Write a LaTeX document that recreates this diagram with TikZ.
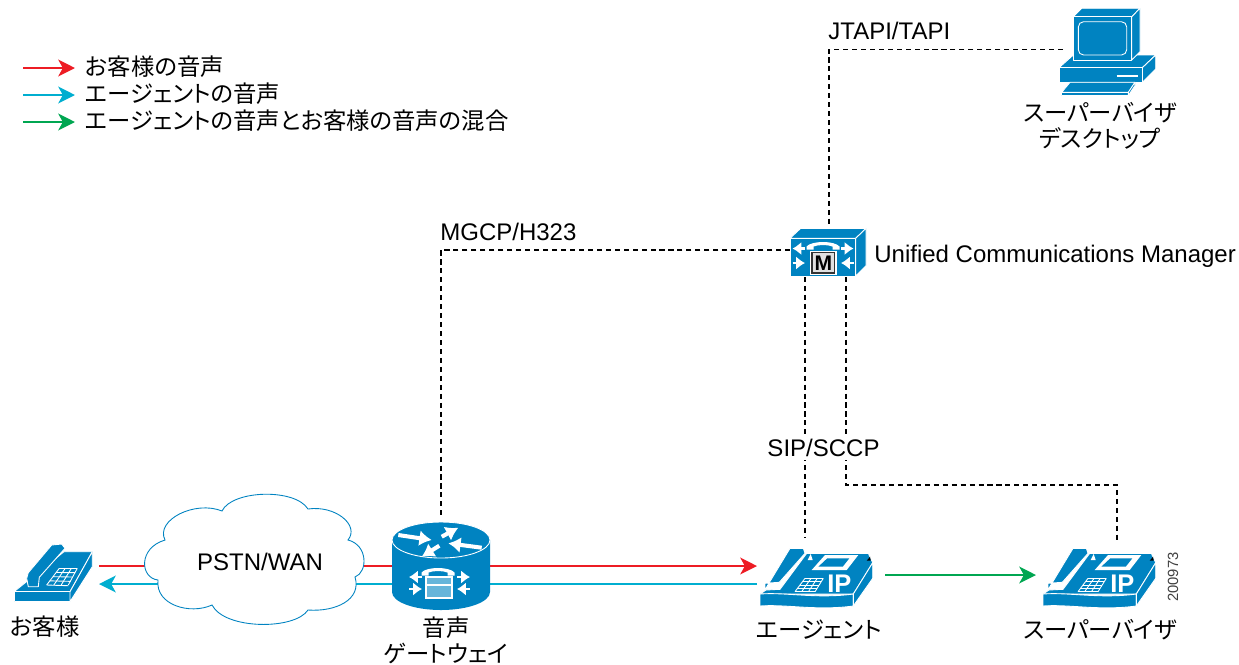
\documentclass[tikz,border=0pt]{standalone}
\usepackage{fontspec}
\setmainfont{Liberation Sans}
\newfontfamily\cjk[RawFeature=+palt]{Noto Sans CJK JP}
\usepackage{xcolor}
\usetikzlibrary{arrows.meta,positioning}
\definecolor{iconblue}{RGB}{0,131,193}
\definecolor{voicered}{RGB}{237,28,36}
\definecolor{voicecyan}{RGB}{0,174,208}
\definecolor{voicegreen}{RGB}{0,166,81}
\tikzset{>={Stealth[length=9.5pt,width=9.5pt,inset=2.6pt]},
  face/.style={fill=iconblue, draw=white, line width=.5pt, line join=round},
  tiny/.style={white, line width=1.5pt, -{Latex[length=5pt,width=7.5pt]}},
  wedge/.style={white, line width=2.3pt, -{Latex[length=7pt,width=9pt]}},
  grid/.style={white, line width=.5pt},
  pics/deskphone/.style={code={
    \draw[face] (-40,18.7) -- (16,18.7) -- (38.3,-21.3) -- (10,-21.3) -- cycle;
    \draw[face] (-40,18.7) rectangle (16,28.7);
    \draw[face] (16,18.7) -- (38.3,-21.3) -- (38.3,-6.3) -- (16,28.7) -- cycle;
    \draw[face] (-27.3,5.3) -- (-25.7,13.7) -- (-15.7,13.7) -- (-14.7,4.3) -- (11,-24.7) -- (7.7,-29) -- (-2.3,-28) -- (-25.7,-.3) -- cycle;
    \foreach \t in {0,.25,.5,.75,1}
      \draw[grid] ({-7.3+12.6*\t},{12-16.7*\t}) -- ({14.3+9*\t},{12.7-17.4*\t});
    \foreach \t in {0,.33,.67,1}
      \draw[grid] ({-7.3+21.6*\t},12) -- ({5.3+18*\t},-4.7);
  }},
  pics/ipphone/.style={code={
    \draw[face] (-56,16) -- (-50,12) -- (-36,11.3) -- (-9.3,-24.7) -- (52.3,-24.7) -- (56.7,-15.3) -- (37.3,16) -- cycle;
    \draw[face] (-56,16) .. controls (-30,14) and (0,21) .. (37.3,16) -- (37.3,28) .. controls (0,33) and (-30,26) .. (-56,28) -- cycle;
    \draw[face] (37.3,16) -- (56.7,-15.3) -- (56.7,.3) -- (37.3,28) -- cycle;
    \draw[face] (-51,12) -- (-51,5.3) -- (-36.7,4.3) -- (-11,-24.7) -- (-12.7,-29.7) -- (-26,-29.7) -- (-47,5) -- cycle;
    \fill[white] (-4.3,-8) -- (9,-23) -- (42.3,-23) -- (30.7,-8) -- cycle;
    \fill[iconblue] (2.3,-11.3) -- (11.3,-19.7) -- (33.3,-19.7) -- (26.7,-11.3) -- cycle;
    \fill[white] (-8.3,-18) -- (-3.3,-18) -- (-5.3,-24) -- cycle;
    \fill[black] (50.7,-17.3) -- (54.7,-17.3) -- (54,-21.3) -- cycle;
    \foreach \t in {0,.25,.5,.75,1}
      \draw[grid] ({-21+10*\t},{13.7-13.4*\t}) -- ({-1+8.3*\t},{13.7-13.4*\t});
    \foreach \t in {0,.33,.67,1}
      \draw[grid] ({-21+20*\t},13.7) -- ({-11+18.3*\t},.3);
    \node[white, inner sep=0pt, font=\bfseries\fontsize{14.5}{14.5}\selectfont] (ip) at (23.3,5.3) {IP};
  }},
  pics/handset/.style={code={
    \fill[white] (-17,-1) -- (-17,-4) .. controls (-12,-10) and (11,-10) .. (16,-4) -- (16,-1) -- (9,-1) -- (9,-4) .. controls (4,-6) and (-5,-6) .. (-10,-4) -- (-10,-1) -- cycle;
  }},
  pics/cmserver/.style={code={
    \draw[face] (-38,-13.7) -- (-27.3,-23.7) -- (38,-23.7) -- (27.7,-13.7) -- cycle;
    \draw[face] (27.7,-13.7) -- (38,-23.7) -- (38,13.7) -- (27.7,24) -- cycle;
    \draw[face] (-38,-13.7) rectangle (27.7,24);
    \pic at (-4.5,-1.5) {handset};
    \draw[tiny] (-23,-3.5) -- (-35.5,-3.5);
    \draw[tiny] (-35.5,11) -- (-23,11);
    \draw[tiny] (13,-3.5) -- (25.5,-3.5);
    \draw[tiny] (25.5,11) -- (13,11);
    \fill[white] (-18,-1.3) rectangle (8.7,23);
    \draw[black!80, fill=black!12, line width=.7pt] (-16,.7) rectangle (6.7,21);
    \node[inner sep=0pt, font=\bfseries\fontsize{12}{12}\selectfont] (mark) at (-4.6,11) {M};
  }},
  pics/gateway/.style={code={
    \fill[iconblue] (-49,-26) -- (-49,26) arc[start angle=180, end angle=360, x radius=49, y radius=-18] -- (49,-26) -- cycle;
    \draw[face] (0,-26) ellipse[x radius=49, y radius=18];
    \draw[wedge] (-42.7,-31) -- (-9.3,-26);
    \draw[wedge] (.7,-29.3) -- (17.3,-38.3);
    \draw[wedge] (40.7,-18.3) -- (7.3,-22.7);
    \draw[wedge] (-1.7,-20.3) -- (-19.3,-9.3);
    \pic at (-2.5,10.5) {handset};
    \draw[tiny] (-19,11) -- (-32,11);
    \draw[tiny] (-32,23) -- (-19,23);
    \draw[tiny] (16,11) -- (29,11);
    \draw[tiny] (29,23) -- (16,23);
    \draw[white, fill=iconblue!60!white, line width=1pt] (-15,10.7) rectangle (10.7,32.3);
    \draw[white, line width=1pt] (-15,19) -- (10.7,19);
  }},
  pics/desktop/.style={code={
    \draw[face] (-48,15.7) -- (-33.7,3) -- (48.7,3) -- (35.3,15.7) -- cycle;
    \draw[face] (35.3,15.7) -- (48.7,3) -- (48.7,17) -- (35.3,30.3) -- cycle;
    \draw[face] (-48,15.7) rectangle (35.3,30.3);
    \draw[white, line width=1pt] (9.7,24) -- (30.7,24);
    \draw[face] (-33.7,-35.3) -- (-25.3,-43.7) -- (33,-43.7) -- (24.7,-35.3) -- cycle;
    \draw[face] (24.7,-35.3) -- (33,-43.7) -- (33,-.3) -- (24.7,8) -- cycle;
    \draw[face] (-33.7,-35.3) rectangle (24.7,8);
    \draw[white, line width=.5pt, rounded corners=3pt] (-28.7,-30.3) rectangle (19.7,3);
    \draw[face] (-45.3,40.3) -- (-37,30.3) -- (28,30.3) -- (21.3,40.3) -- cycle;
    \draw[face] (-46,40.3) rectangle (21.3,43.7);
    \draw[face] (21.3,40.3) -- (28,30.3) -- (28,33.5) -- (21.3,43.7) -- cycle;
  }},
}

\begin{document}
\begin{tikzpicture}[x=.02cm, y=-.02cm,
                    jp/.style={font=\cjk\fontsize{13.3}{14.8}\selectfont, align=center, inner sep=0pt},
                    en/.style={font=\fontsize{13.66}{16}\selectfont, inner sep=0pt},
                    signal/.style={black, line width=.6pt, dash pattern=on 2.9pt off 2.2pt},
                    redvoice/.style={voicered, line width=1.6pt, ->},
                    cyanvoice/.style={voicecyan, line width=1.6pt, ->},
                    greenvoice/.style={voicegreen, line width=1.6pt, ->},
                    cloudline/.style={draw=iconblue, fill=white, line width=.5pt},
                   ]
\useasboundingbox (0,0) rectangle (1239,664);

\coordinate (legredtail) at (23,68);
\coordinate (legredhead) at (75,68);
\coordinate (legcyantail) at (23,95);
\coordinate (legcyanhead) at (75,95);
\coordinate (leggreentail) at (23,122);
\coordinate (leggreenhead) at (75,122);

\coordinate (custred) at (99,566);
\coordinate (custcyan) at (99,584);
\coordinate (agentred) at (757,566);
\coordinate (agentcyan) at (757,584);
\coordinate (agentgreen) at (885,575);
\coordinate (supergreen) at (1036,575);

\coordinate (pcleft) at (1063,49.5);
\coordinate (cmtop) at (829,225);
\coordinate (cmleft) at (790,250);
\coordinate (cmbotl) at (805,277);
\coordinate (cmbotr) at (846,277);
\coordinate (gwtop) at (441,517);
\coordinate (agenttop) at (805,537);
\coordinate (supertop) at (1117,543);
\coordinate (sipbend) at (846,485);

\draw[redvoice] (legredtail) -- (legredhead);
\draw[cyanvoice] (legcyantail) -- (legcyanhead);
\draw[greenvoice] (leggreentail) -- (leggreenhead);

\draw[redvoice] (custred) -- (agentred);
\draw[cyanvoice] (agentcyan) -- (custcyan);
\draw[greenvoice] (agentgreen) -- (supergreen);

\draw[signal] (pcleft) -| (cmtop);
\draw[signal] (cmleft) -| (gwtop);
\draw[signal] (cmbotl) -- (agenttop);
\draw[signal] (cmbotr) -- (sipbend) -| (supertop);

\draw[cloudline] (165,540) .. controls (155,520) and (195,500) .. (222,511)
                 .. controls (232,490) and (295,488) .. (308,509)
                 .. controls (335,505) and (360,525) .. (348,540)
                 .. controls (368,545) and (368,572) .. (355,577)
                 .. controls (362,600) and (335,612) .. (308,610)
                 .. controls (295,630) and (225,630) .. (212,605)
                 .. controls (190,615) and (155,605) .. (158,580)
                 .. controls (140,578) and (138,548) .. cycle;
\node[en] (pstnlabel) at (260,562) {PSTN/WAN};

\pic (cust) at (54,573) {deskphone};
\pic (gw) at (441,566) {gateway};
\pic (agent) at (816,578) {ipphone};
\pic (super) at (1099,578) {ipphone};
\pic (cm) at (828,252) {cmserver};
\pic (pc) at (1107,52) {desktop};

\node[jp, anchor=west] (legredlabel) at (85,67) {お客様の音声};
\node[jp, anchor=west] (legcyanlabel) at (85,94) {エージェントの音声};
\node[jp, anchor=west] (leggreenlabel) at (85,121) {エージェントの音声とお客様の音声の混合};

\node[jp] (custlabel) at (45,627) {お客様};
\node[jp] (gwlabel) at (446,640) {音声\\ゲートウェイ};
\node[jp] (agentlabel) at (819,630) {エージェント};
\node[jp] (superlabel) at (1100,630) {スーパーバイザ};
\node[jp] (pclabel) at (1100,126) {スーパーバイザ\\デスクトップ};

\node[en, anchor=west] (jtapi) at (828,31) {JTAPI/TAPI};
\node[en, anchor=west] (mgcp) at (440,232) {MGCP/H323};
\node[en, anchor=west] (cmlabel) at (874,256) {Unified Communications Manager};
\node[en, fill=white, inner sep=2pt] (sip) at (823.5,448) {SIP/SCCP};
\node[rotate=90, inner sep=0pt, black!75, font=\fontsize{8.4}{10}\selectfont] (figno) at (1173,577) {200973};

\end{tikzpicture}
\end{document}
